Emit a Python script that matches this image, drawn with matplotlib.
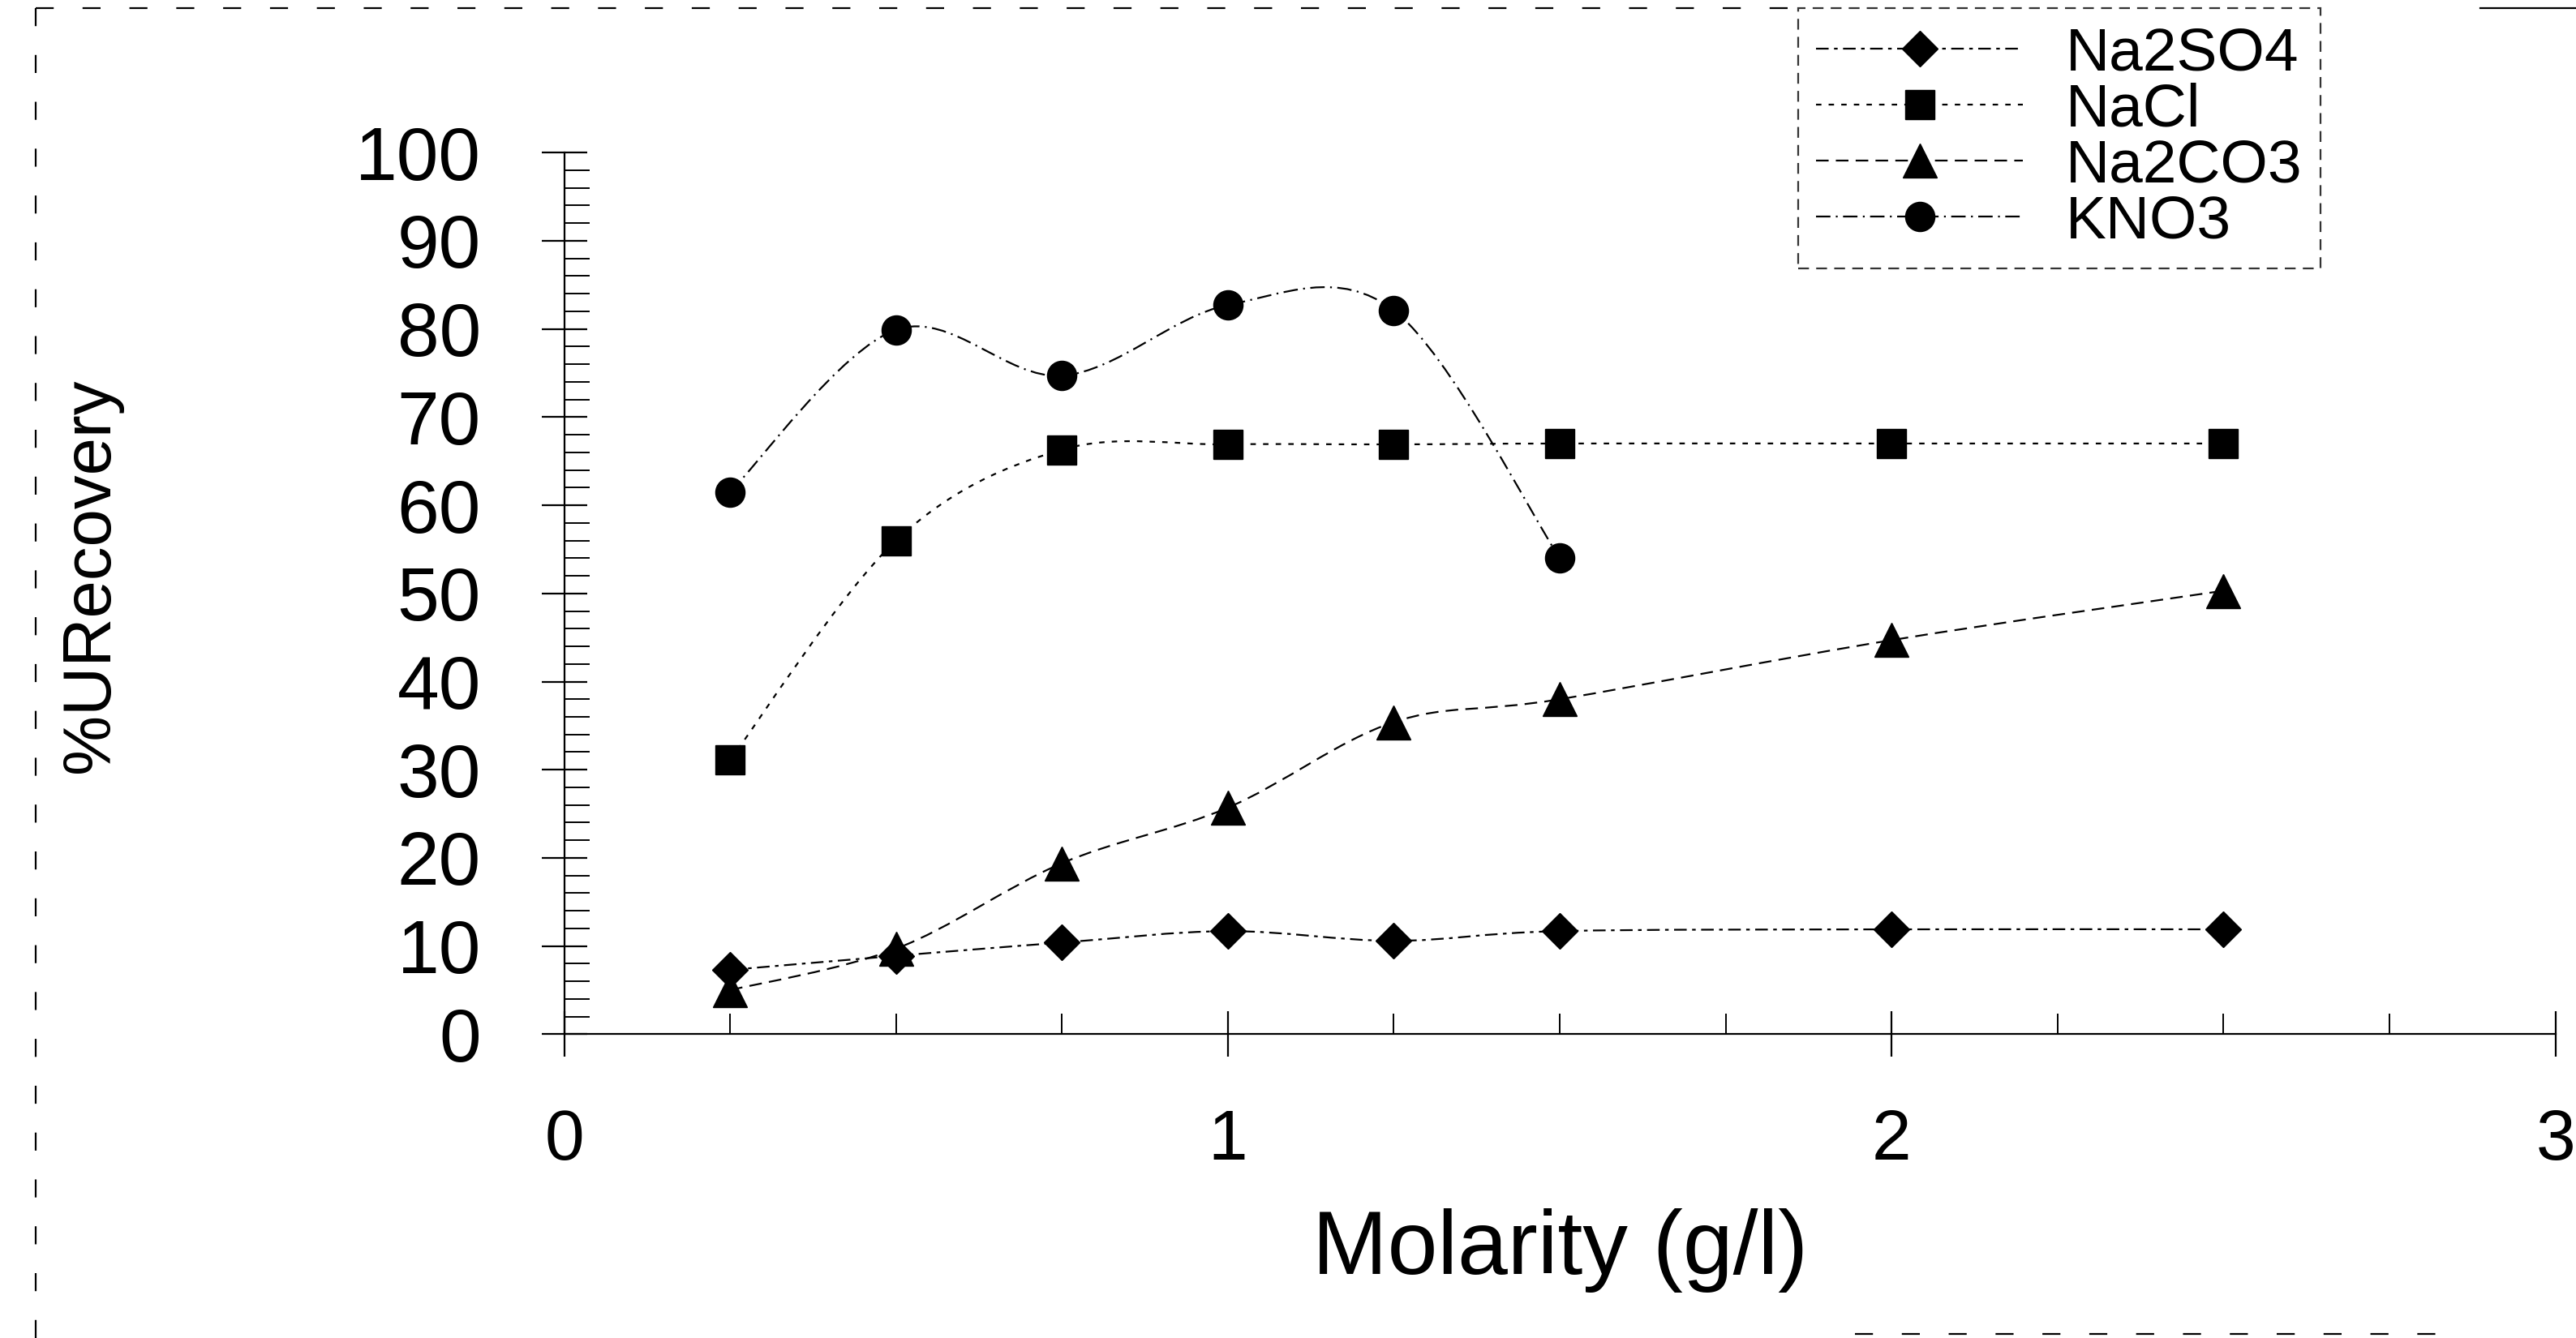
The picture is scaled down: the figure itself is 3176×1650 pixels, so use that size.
import matplotlib
matplotlib.use("Agg")
import matplotlib.pyplot as plt
from matplotlib.path import Path
from matplotlib.patches import PathPatch
from matplotlib.lines import Line2D
from matplotlib.ticker import MultipleLocator

plt.rcParams['font.family'] = ['Liberation Sans', 'DejaVu Sans']

# data
molarity = [0.25, 0.5, 0.75, 1.0, 1.25, 1.5, 2.0, 2.5]
na2so4 = [7.3, 8.9, 10.4, 11.7, 10.6, 11.7, 11.9, 11.9]
nacl = [31.1, 56.0, 66.3, 66.9, 66.9, 67.0, 67.0, 67.0]
na2co3 = [5.0, 9.7, 19.4, 25.7, 35.4, 38.0, 44.7, 50.3]
kno3_x = [0.25, 0.5, 0.75, 1.0, 1.25, 1.5]
kno3 = [61.5, 79.9, 74.7, 82.7, 82.1, 54.0]

series = [
    ("Na2SO4", molarity, na2so4, "D", 22, (0, (7, 3, 2, 3))),
    ("NaCl", molarity, nacl, "s", 26, (0, (3, 4))),
    ("Na2CO3", molarity, na2co3, "^", 30, (0, (7, 4))),
    ("KNO3", kno3_x, kno3, "o", 26, (0, (8, 3, 1, 3))),
]


def smooth_path(xs, ys):
    # Excel-style smoothed line: cubic bezier segments through the points
    pts = list(zip(xs, ys))
    verts = [pts[0]]
    codes = [Path.MOVETO]
    n = len(pts)
    for i in range(n - 1):
        p0 = pts[i - 1] if i > 0 else pts[i]
        p1 = pts[i]
        p2 = pts[i + 1]
        p3 = pts[i + 2] if i + 2 < n else pts[i + 1]
        c1 = (p1[0] + (p2[0] - p0[0]) / 6, p1[1] + (p2[1] - p0[1]) / 6)
        c2 = (p2[0] - (p3[0] - p1[0]) / 6, p2[1] - (p3[1] - p1[1]) / 6)
        verts += [c1, c2, p2]
        codes += [Path.CURVE4] * 3
    return Path(verts, codes)


fig = plt.figure(figsize=(31.76, 16.5), dpi=100)
ax = fig.add_axes([0.219, 0.227, 0.773, 0.659])

handles = []
for name, xs, ys, mk, ms, ls in series:
    ax.add_patch(PathPatch(smooth_path(xs, ys), facecolor='none', edgecolor='black',
                           linewidth=1.6, linestyle=ls, zorder=2))
    ax.plot(xs, ys, linestyle='none', marker=mk, markersize=ms, color='black', zorder=3)
    handles.append(Line2D([], [], color='black', linewidth=1.6, linestyle=ls,
                          marker=mk, markersize=ms, label=name))

ax.set_xlim(0, 3)
ax.set_ylim(0, 100)
ax.xaxis.set_major_locator(MultipleLocator(1))
ax.xaxis.set_minor_locator(MultipleLocator(0.25))
ax.yaxis.set_major_locator(MultipleLocator(10))
ax.yaxis.set_minor_locator(MultipleLocator(2))

for s in ['top', 'right']:
    ax.spines[s].set_visible(False)
for s in ['left', 'bottom']:
    ax.spines[s].set_linewidth(1.6)

ax.tick_params(axis='y', which='major', direction='inout', length=40, width=1.6,
               labelsize=67, pad=54)
ax.tick_params(axis='y', which='minor', direction='in', length=22, width=1.4)
ax.tick_params(axis='x', which='major', direction='inout', length=40, width=1.6,
               labelsize=63, pad=46)
ax.tick_params(axis='x', which='minor', direction='in', length=18, width=1.4)

ax.set_xlabel('Molarity (g/l)', fontsize=80, labelpad=30)
ax.set_ylabel('%URecovery', fontsize=60)
ax.yaxis.set_label_coords(-0.222, 0.52)

leg = fig.legend(handles=handles, loc='upper left', bbox_to_anchor=(0.698, 0.994),
                 fontsize=54, numpoints=1, handlelength=3.4, handletextpad=0.7,
                 labelspacing=0.0, borderpad=0.3, borderaxespad=0, fancybox=False,
                 frameon=True, edgecolor='black')
leg.get_frame().set_linewidth(1.6)
leg.get_frame().set_linestyle((0, (6, 4)))

# scanned page border
border = dict(color='black', linewidth=1.6, linestyle=(0, (10, 16)),
              transform=fig.transFigure)
fig.add_artist(Line2D([0.014, 0.014], [0.0, 0.994], **border))
fig.add_artist(Line2D([0.014, 0.698], [0.994, 0.994], **border))
fig.add_artist(Line2D([0.72, 0.95], [0.003, 0.003], **border))
fig.add_artist(Line2D([0.963, 1.0], [0.994, 0.994], color='black', linewidth=1.6,
                      transform=fig.transFigure))

fig.savefig('out.png', dpi=100, facecolor='white')
